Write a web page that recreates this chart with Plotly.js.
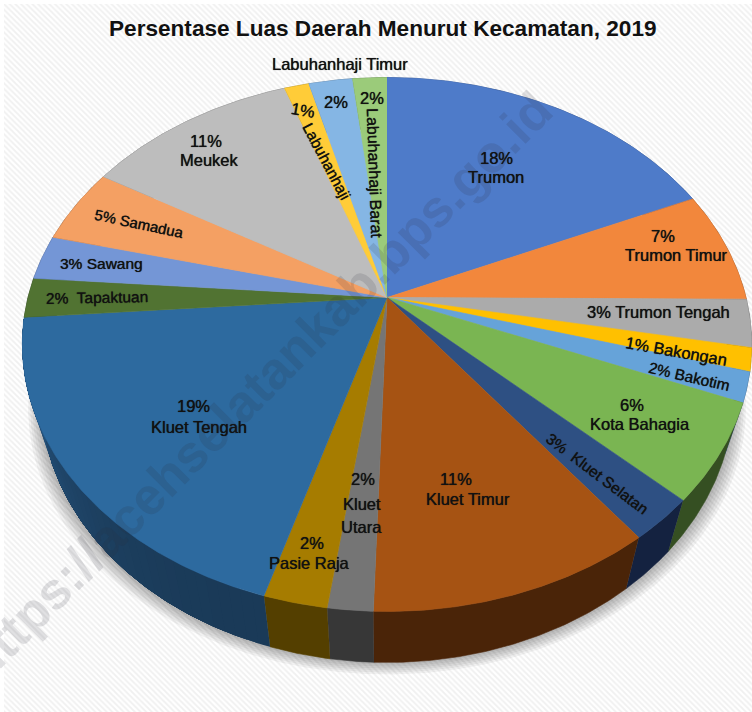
<!DOCTYPE html>
<html><head><meta charset="utf-8">
<script src="https://cdn.plot.ly/plotly-3.0.1.min.js"></script>
<style>html,body{margin:0;padding:0;background:#fff}#c{width:752px;height:712px}</style>
</head><body><div id="c"></div>
<script>
const titleText = 'Persentase Luas Daerah Menurut Kecamatan, 2019';
const watermark = 'https://acehselatankab.bps.go.id';
const categories = ['Trumon','Trumon Timur','Trumon Tengah','Bakongan','Bakotim','Kota Bahagia','Kluet Selatan','Kluet Timur','Kluet Utara','Pasie Raja','Kluet Tengah','Tapaktuan','Sawang','Samadua','Meukek','Labuhanhaji','Labuhanhaji Timur','Labuhanhaji Barat'];
const shares = [18.3,6.8,2.9,1.4,1.8,5.9,2.6,10.8,1.7,2.4,19.2,2.4,2.7,4.6,11.1,1.3,2.3,1.8];
const topColors = ['#4e7bc9','#f2873c','#ababab','#ffc000','#66a3d9','#7ab552','#2e5083','#a65313','#757575','#a67c00','#2d6a9f','#517332','#7496d6','#f4a063','#bdbdbd','#ffcc38','#85b6e4','#9bcb7a'];
const sideColors = ['#2a4370','#6e3c18','#4c4c4c','#705400','#2c4a66','#354f22','#142240','#4a2408','#373737','#543f00','#1a3a58','#24331a','#34466a','#6e4526','#545454','#705a1a','#3c5268','#465c36'];
const kluetTengahSideLight = [44,98,146];

const view = {cx:387, cy:297.5, rx:359, ry:258.7, persp:0.176, depthScale:0.95, depth:51};
function rim(theta, lower, extraY, sc){
  const u=Math.sin(theta), v=Math.cos(theta), d=1+view.persp*v;
  let x=view.rx*u/d, y=view.cy-view.ry*v/d;
  if(lower){ x*=view.depthScale; y+=view.depth; }
  if(sc) x*=sc;
  return [view.cx+x, y+(extraY||0)];
}
function arc(a,b,lower,extraY,sc){
  const n=Math.max(2,Math.ceil((b-a)/(Math.PI/360))), pts=[];
  for(let i=0;i<=n;i++) pts.push(rim(a+(b-a)*i/n,lower,extraY,sc));
  return pts;
}
function poly(pts,color,lw){
  return {type:'scatter',mode:'lines',x:pts.map(p=>p[0]),y:pts.map(p=>p[1]),fill:'toself',fillcolor:color,
    line:{color:color,width:lw===undefined?0.6:lw},hoverinfo:'skip',showlegend:false};
}
const total=shares.reduce((a,b)=>a+b,0);
const traces=[];
// hatched backdrop
traces.push({type:'scatter',mode:'lines',x:[4,752,752,4,4],y:[4,4,712,712,4],fill:'toself',fillcolor:'#fafafa',
  fillpattern:{shape:'\\',fgcolor:'#f0f0f0',bgcolor:'#ffffff',size:4,solidity:0.45},line:{width:0},hoverinfo:'skip',showlegend:false});
// soft shadow under the disc
[6,5,4,3,2,1].forEach(t=>{
  traces.push(poly(arc(0,2*Math.PI,true,2*t,1+0.006*t),'rgba(0,0,0,0.05)',0));
});
let cum=0; const spans=[];
shares.forEach(s=>{const a=cum/total*2*Math.PI; cum+=s; spans.push([a,cum/total*2*Math.PI]);});
function hex(c){return [1,3,5].map(i=>parseInt(c.substr(i,2),16));}
spans.forEach((sp,i)=>{
  if(categories[i]==='Kluet Tengah'){
    // shaded side: each step repaints from its start to the slice end, so no seams show
    const dark=hex(sideColors[i]), n=40;
    for(let k=0;k<n;k++){
      const a=sp[0]+(sp[1]-sp[0])*k/n, f=Math.pow((k+0.5)/n,2.2);
      const c=dark.map((d,j)=>Math.round(d+(kluetTengahSideLight[j]-d)*f));
      traces.push(poly(arc(a,sp[1],false).concat(arc(a,sp[1],true).reverse()),'rgb('+c.join(',')+')',0));
    }
  } else {
    traces.push(poly(arc(sp[0],sp[1],false).concat(arc(sp[0],sp[1],true).reverse()),sideColors[i]));
  }
});
spans.forEach((sp,i)=>{
  traces.push(poly([[view.cx,view.cy]].concat(arc(sp[0],sp[1],false)),topColors[i]));
});

// label placement: [x, y, angle, size]; a single entry means "pct name" on one line
const labelPlace = [
 [[496,158,0],[496,177,0]],
 [[663,236,0],[676,255,0]],
 [[658,312,0]],
 [[676,351,10]],
 [[689,376,13,15.5]],
 [[632,405,0],[640,424,0]],
 [[597,473,37,15.5]],
 [[456,479,0],[468,499,0]],
 [[363,479,0],[362,504,0],[361,527,0]],
 [[312,543,0],[309,563,0]],
 [[193,406,0],[199,427,0]],
 [[97,297,-1,15.5]],
 [[101,263,0,15.5]],
 [[139,223,12,15]],
 [[206,141,0],[209,160,0]],
 [[303,110,10],[327,161,62,15.5]],
 [[336,102,0],[340,64,0]],
 [[372,98,0],[375,173,88,16]]
];
const doubleGap = {'Tapaktuan':1,'Kluet Selatan':1};
const fs=16.5, ink='#111';
const ann=[];
function addText(text,p,size,weight,shadow){
  ann.push({xref:'x',yref:'y',x:p[0],y:p[1],text:text,showarrow:false,textangle:p[2]||0,xanchor:'center',yanchor:'middle',
    font:{family:'"Liberation Sans",Arial,sans-serif',size:size||p[3]||fs,color:ink,weight:weight||400,shadow:shadow||'0 0 0.7px #111'}});
}
categories.forEach((name,i)=>{
  const pct=Math.round(shares[i]/total*100)+'%', pl=labelPlace[i];
  if(pl.length===1) addText(pct+(doubleGap[name]?'  ':' ')+name,pl[0]);
  else if(pl.length===3){ addText(pct,pl[0]); const w=name.split(' '); addText(w[0],pl[1]); addText(w[1],pl[2]); }
  else { addText(pct,pl[0]); addText(name,pl[1]); }
});
addText(titleText,[383,28,0],22.6,700,'none');
ann.push({xref:'x',yref:'y',x:258,y:386,text:watermark,showarrow:false,textangle:-45,xanchor:'center',yanchor:'middle',
  font:{family:'"Liberation Sans",Arial,sans-serif',size:52,color:'rgba(40,40,60,0.14)',weight:700}});

const hidden={visible:false,fixedrange:true};
Plotly.newPlot('c',traces,{
  width:752,height:712,margin:{l:0,r:0,t:0,b:0},paper_bgcolor:'#ffffff',plot_bgcolor:'rgba(0,0,0,0)',showlegend:false,
  xaxis:Object.assign({range:[0,752]},hidden),yaxis:Object.assign({range:[712,0]},hidden),
  annotations:ann
},{displayModeBar:false,staticPlot:true});
</script></body></html>
